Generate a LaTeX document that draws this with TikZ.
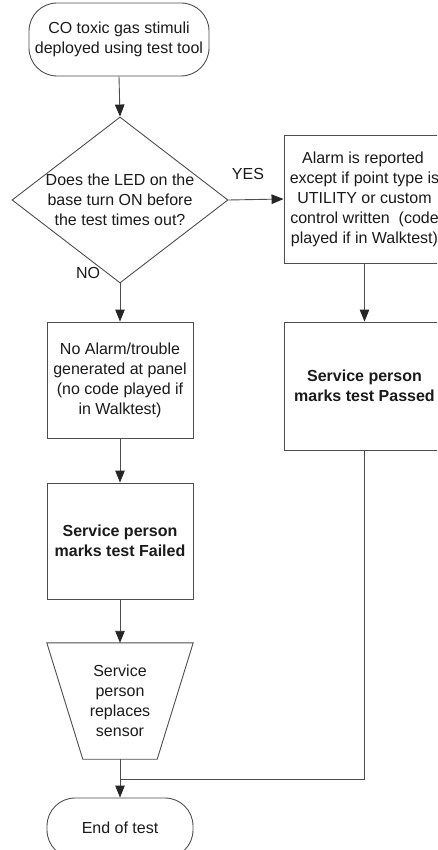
\documentclass[tikz,border=0pt]{standalone}
\usepackage{fontspec}
\setmainfont{Liberation Sans}
\usetikzlibrary{arrows.meta,shapes.geometric}
\definecolor{linegray}{HTML}{4D4D4D}
\definecolor{txt}{HTML}{1A1A1A}
\begin{document}
\begin{tikzpicture}[x=1pt,y=-1pt,
  every node/.style={font=\fontsize{16}{20}\selectfont, text=txt, align=center},
  shapebox/.style={draw=linegray, line width=0.9pt, minimum width=146pt, minimum height=116pt, inner sep=0pt},
  termbox/.style={draw=linegray, line width=0.9pt, rounded corners=28pt, inner sep=0pt},
  conn/.style={draw=linegray, line width=0.9pt},
  arr/.style={conn, -{Triangle[length=12pt,width=9.5pt,color=black!85]}},
  lbl/.style={inner sep=0pt}
]
\useasboundingbox (0,0) rectangle (437,850);
\clip (0,0) rectangle (437,850);

\node[termbox, minimum width=180pt, minimum height=73pt] (start) at (119,39.5)
  {CO toxic gas stimuli\\deployed using test tool};

\node[diamond, draw=linegray, line width=0.9pt, minimum width=216pt, minimum height=166pt, inner sep=0pt] (dia) at (120,200) {};
\node[lbl] (diatext) at (120,200) {Does the LED on the\\base turn ON before\\the test times out?};

\node[shapebox, minimum width=161pt, minimum height=128pt] (r1) at (364.5,199)
  {\hspace*{-3pt}Alarm is reported\\except if point type is\\UTILITY or custom\\control written\ \ (code\\played if in Walktest)};
\node[shapebox, minimum width=161pt, minimum height=128pt, font=\fontsize{16}{20}\selectfont\bfseries] (r2) at (364.5,386)
  {Service person\\marks test Passed};

\node[shapebox] (l1) at (120,380)
  {No Alarm/trouble\\generated at panel\\(no code played if\\in Walktest)};
\node[shapebox, font=\fontsize{16}{20}\selectfont\bfseries] (l2) at (120,541)
  {Service person\\marks test Failed};

\node[minimum width=146pt, minimum height=116pt, inner sep=0pt] (trap) at (120,701)
  {Service\\person\\replaces\\sensor};
\draw[conn] (trap.north west) -- (trap.north east) -- ([xshift=-36pt]trap.south east)
  -- ([xshift=36pt]trap.south west) -- cycle;

\node[termbox, minimum width=146pt, minimum height=60pt] (end) at (120,828) {End of test};

\coordinate (merge) at (120,779);

\draw[arr] (start.south) -- (dia.north);
\draw[arr] (dia.east) -- (r1.west);
\node[lbl] (yes) at (248,174) {YES};
\draw[arr] (dia.south) -- (l1.north);
\node[lbl] (no) at (88,273) {NO};
\draw[arr] (r1.south) -- (r2.north);
\draw[arr] (l1.south) -- (l2.north);
\draw[arr] (l2.south) -- (trap.north);
\draw[arr] (trap.south) -- (end.north);
\draw[conn] (r2.south) |- (merge);
\end{tikzpicture}
\end{document}
